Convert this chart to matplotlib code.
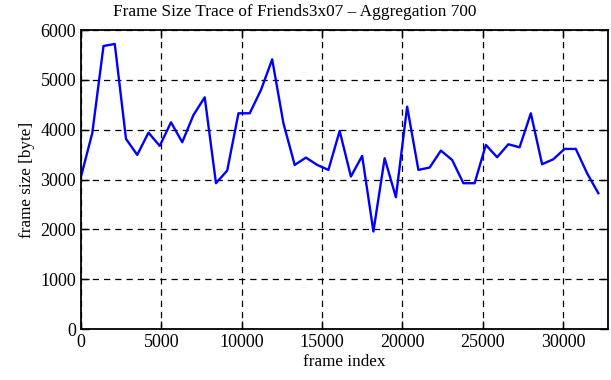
import numpy as np
import matplotlib
matplotlib.use('Agg')
import matplotlib.pyplot as plt

# aggregated frame sizes, one value every 700 frames
aggregation = 700
frame_size = [3060, 3930, 5680, 5720, 3815, 3494, 3941, 3674, 4148, 3748,
              4295, 4650, 2926, 3180, 4329, 4329, 4796, 5411, 4128, 3293,
              3440, 3293, 3193, 3975, 3060, 3474, 1957, 3427, 2645, 4462,
              3193, 3240, 3580, 3393, 2926, 2926, 3694, 3447, 3707, 3647,
              4329, 3307, 3407, 3614, 3614, 3126, 2725]
frame_index = np.arange(len(frame_size)) * aggregation
x_ticks = [0, 5000, 10000, 15000, 20000, 25000, 30000]
y_ticks = [0, 1000, 2000, 3000, 4000, 5000, 6000]

plt.rcParams['font.family'] = 'Liberation Serif'
plt.rcParams['font.size'] = 13

fig = plt.figure(figsize=(6.11, 3.80), dpi=100)
ax = fig.add_axes([0.1326, 0.1342, 0.8624, 0.7868])
ax.plot(frame_index, frame_size, color='#0000ff', linewidth=1.7)

ax.set_xlim(0, 32800)
ax.set_ylim(0, 6000)
ax.set_xticks(x_ticks)
ax.set_yticks(y_ticks)
ax.grid(True, color='black', linestyle=(0, (5, 4)), linewidth=0.9)
ax.tick_params(direction='in', top=True, right=True, length=6, width=1)
for s in ax.spines.values():
    s.set_linewidth(1.3)

ax.set_xlabel('frame index', fontsize=12.3, labelpad=2)
ax.set_ylabel('frame size [byte]', fontsize=12.3, labelpad=4)
fig.text(0.483, 0.968, 'Frame Size Trace of Friends3x07 – Aggregation 700',
         fontsize=12.4, ha='center', va='center')

fig.savefig('out.png', dpi=100)
